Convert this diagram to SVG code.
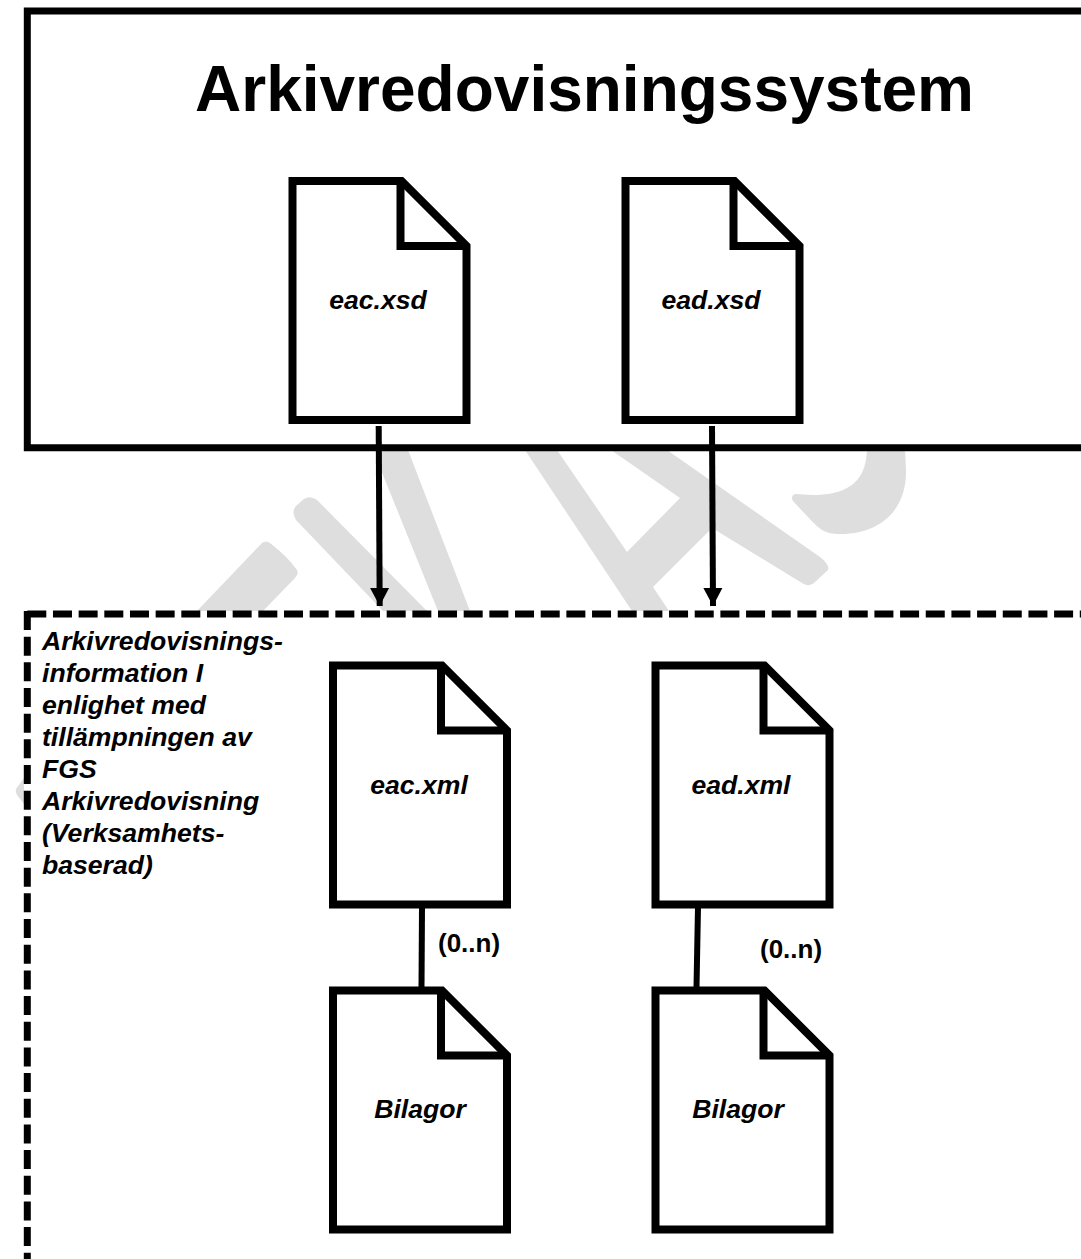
<svg xmlns="http://www.w3.org/2000/svg" width="1081" height="1259" viewBox="0 0 1081 1259">
<style>
text{font-family:"Liberation Sans",Arial,sans-serif;fill:#000}
.doc{fill:#fff;stroke:#000;stroke-width:8;stroke-linejoin:miter}
.lbl{font-size:26.6px;font-weight:700;font-style:italic;text-anchor:middle}
.note{font-size:26.6px;font-weight:700;font-style:italic}
.card{font-size:26px;font-weight:700}
.con{fill:none;stroke:#000;stroke-width:6}
.dash{fill:none;stroke:#000;stroke-width:7;stroke-dasharray:19 6.67}
.wm{fill:#dedede}
</style>
<defs>
<g id="d"><path class="doc" d="M0 0H109L174 65V239H0Z"/><path class="doc" style="fill:none" d="M108 0V65H174"/></g>
<marker id="a" markerUnits="userSpaceOnUse" markerWidth="20" markerHeight="20" refX="18" refY="10" orient="auto"><path d="M0 0.5L18 10L0 19.5Z" fill="#000"/></marker>
</defs>
<rect width="1081" height="1259" fill="#fff"/>
<g id="watermark" class="wm">
<path d="M24 778L16 789Q15 792 17 795L24 804Z"/>
<path d="M197 611L262 543Q266 540 270 543Q288 557 297 570Q299 574 295 578L263 611Z"/>
<path d="M383 611L296 520Q291 512 296 506L304 499Q310 495 317 500L427 611Z"/>
<path d="M381 450H408L470 611H438L381 470Z"/>
<path d="M525 450H557L627 552L680 498L611 450H667L820 557Q830 565 828 570L815 582Q810 588 802 583L712 528L653 587L669 611H632Z"/>
<path d="M867 450C866 470 860 495 813 495L795 494Q790 496 793 501L807 516C820 530 825 534 840 534C885 534 907 505 906 470L905 450Z"/>
</g>
<g id="top"><path d="M1081 11H27.3V447.7H1081" fill="#fff" stroke="#000" stroke-width="7"/>
<text x="584.5" y="111" font-size="64" font-weight="700" text-anchor="middle">Arkivredovisningssystem</text></g>
<g id="bottom"><rect x="27" y="614" width="1054" height="645" fill="#fff"/>
<path class="dash" d="M27.3 614H1081"/><path class="dash" d="M27.3 611V1259"/>
<text class="note"><tspan x="42" y="650">Arkivredovisnings-</tspan><tspan x="42" y="682">information I</tspan><tspan x="42" y="714">enlighet med</tspan><tspan x="42" y="746">tillämpningen av</tspan><tspan x="42" y="778">FGS</tspan><tspan x="42" y="810">Arkivredovisning</tspan><tspan x="42" y="842">(Verksamhets-</tspan><tspan x="42" y="874">baserad)</tspan></text></g>
<g id="n1"><use href="#d" x="292.5" y="181"/><text class="lbl" x="378" y="309">eac.xsd</text></g>
<g id="n2"><use href="#d" x="625.5" y="181"/><text class="lbl" x="711" y="309">ead.xsd</text></g>
<g id="n3"><use href="#d" x="333" y="665.5"/><text class="lbl" x="419" y="794">eac.xml</text></g>
<g id="n4"><use href="#d" x="655.5" y="665.5"/><text class="lbl" x="741" y="794">ead.xml</text></g>
<g id="n5"><use href="#d" x="333" y="990.5"/><text class="lbl" x="420" y="1118">Bilagor</text></g>
<g id="n6"><use href="#d" x="655.5" y="990.5"/><text class="lbl" x="738" y="1118">Bilagor</text></g>
<g id="connectors">
<path class="con" d="M378.7 426L379.7 606" marker-end="url(#a)"/>
<path class="con" d="M712 426L713 606" marker-end="url(#a)"/>
<path class="con" d="M422 907L421.5 987"/>
<path class="con" d="M698 907L696.5 987"/>
</g>
<text class="card" x="438" y="952">(0..n)</text>
<text class="card" x="760" y="958">(0..n)</text>
</svg>
